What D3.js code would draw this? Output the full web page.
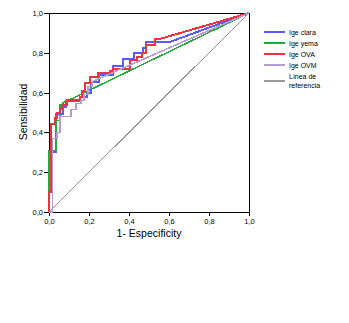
<!DOCTYPE html>
<html>
<head>
<meta charset="utf-8">
<script src="https://cdn.jsdelivr.net/npm/d3@7"></script>
<style>
  body { margin: 0; background: #fff; }
  text { font-family: "Liberation Sans", Arial, sans-serif; }
</style>
</head>
<body>
<div id="chart"></div>
<script>
// ROC points [1 - especificidad, sensibilidad]
let ige_clara = [[0,0],[0,0.13],[0.01,0.13],[0.01,0.30],[0.035,0.30],[0.035,0.49],[0.07,0.49],[0.07,0.53],
    [0.085,0.53],[0.085,0.56],[0.155,0.56],[0.155,0.58],[0.19,0.58],[0.19,0.60],[0.21,0.60],[0.21,0.655],
    [0.25,0.655],[0.25,0.69],[0.32,0.69],[0.32,0.735],[0.37,0.735],[0.37,0.77],[0.425,0.77],[0.425,0.80],
    [0.47,0.80],[0.47,0.825],[0.485,0.825],[0.485,0.853],[0.6,0.853],[1,1]];
let ige_yema = [[0,0],[0,0.31],[0.035,0.31],[0.035,0.46],[0.055,0.46],[0.055,0.54],[0.07,0.54],[0.07,0.548],[1,1]];
let ige_ova = [[0,0],[0,0.10],[0.01,0.10],[0.01,0.44],[0.03,0.44],[0.03,0.47],[0.04,0.47],[0.04,0.50],
    [0.055,0.50],[0.055,0.52],[0.065,0.52],[0.065,0.54],[0.09,0.54],[0.09,0.565],[0.155,0.565],[0.155,0.58],
    [0.165,0.58],[0.165,0.61],[0.18,0.61],[0.18,0.647],[0.205,0.647],[0.205,0.68],[0.245,0.68],[0.245,0.697],
    [0.305,0.697],[0.305,0.71],[0.32,0.71],[0.32,0.72],[0.405,0.72],[0.405,0.765],[0.44,0.765],[0.44,0.78],
    [0.465,0.78],[0.465,0.797],[0.485,0.797],[0.485,0.84],[0.53,0.84],[0.53,0.87],[0.555,0.87],[1,1]];
let ige_ovm = [[0,0],[0.017,0],[0.017,0.37],[0.04,0.37],[0.04,0.40],[0.055,0.40],[0.055,0.48],[0.11,0.48],
    [0.11,0.515],[0.135,0.515],[0.135,0.545],[0.16,0.545],[0.16,0.56],[0.175,0.56],[0.175,0.59],[0.195,0.59],
    [0.195,0.63],[0.215,0.63],[0.215,0.655],[1,1]];
let referencia = [[0,0],[1,1]];

let series_names = ['Ige clara', 'Ige yema', 'Ige OVA', 'Ige OVM', 'Línea de referencia'];
let series_data = [ige_clara, ige_yema, ige_ova, ige_ovm, referencia];
let series_colors = ['#5a5aff', '#22aa3a', '#ee3340', '#b49cd2', '#999999'];
let series_width = [2, 1.5, 2, 1.6, 1];
let ticks = [0, 0.2, 0.4, 0.6, 0.8, 1.0];

let width = 349, height = 323;
let svg = d3.select('#chart').append('svg')
    .attr('width', width)
    .attr('height', height);

let xScale = d3.scaleLinear().domain([0, 1]).range([49, 249]);
let yScale = d3.scaleLinear().domain([0, 1]).range([212, 13]);
let fmt = d => d.toFixed(1).replace('.', ',');

// Frame
svg.append('rect')
    .attr('x', 49).attr('y', 13)
    .attr('width', 200).attr('height', 199)
    .attr('fill', 'none')
    .attr('stroke', '#000')
    .attr('stroke-width', 1)
    .attr('shape-rendering', 'crispEdges');

let xAxis = svg.append('g')
    .attr('transform', 'translate(0,212)')
    .call(d3.axisBottom(xScale).tickValues(ticks).tickFormat(fmt).tickSize(4).tickSizeOuter(0));
let yAxis = svg.append('g')
    .attr('transform', 'translate(49,0)')
    .call(d3.axisLeft(yScale).tickValues(ticks).tickFormat(fmt).tickSize(5).tickSizeOuter(0));

[xAxis, yAxis].forEach(function(ax) {
    ax.selectAll('path').attr('stroke', '#000').attr('shape-rendering', 'crispEdges');
    ax.selectAll('line').attr('stroke', '#000').attr('shape-rendering', 'crispEdges');
    ax.selectAll('text').attr('fill', '#000').style('font-size', '7.5px')
        .style('font-family', '"Liberation Sans", Arial, sans-serif');
});
xAxis.selectAll('text').attr('dy', '0.71em').attr('y', 7);
yAxis.selectAll('text').attr('x', -6);

svg.append('text')
    .attr('x', 149).attr('y', 237)
    .attr('text-anchor', 'middle')
    .style('font-size', '10.5px')
    .text('1- Especificity');

svg.append('text')
    .attr('transform', 'translate(27,112) rotate(-90)')
    .attr('text-anchor', 'middle')
    .style('font-size', '10.5px')
    .text('Sensibilidad');

// ROC curves
let line = d3.line()
    .x(d => xScale(d[0]))
    .y(d => yScale(d[1]));

series_data.forEach(function(s, i) {
    svg.append('path')
        .datum(s)
        .attr('d', line)
        .attr('fill', 'none')
        .attr('stroke', series_colors[i])
        .attr('stroke-width', series_width[i])
        .attr('shape-rendering', 'crispEdges');
});

// Legend
let legend_y = [32, 43, 54, 65, 81];
series_names.forEach(function(name, i) {
    let g = svg.append('g').attr('transform', 'translate(264,' + legend_y[i] + ')');
    g.append('line')
        .attr('x1', 0).attr('x2', 21)
        .attr('stroke', series_colors[i])
        .attr('stroke-width', 2)
        .attr('shape-rendering', 'crispEdges');
    if (i === 4) {
        g.append('text').attr('x', 25).attr('y', -2).style('font-size', '7px').text('Línea de');
        g.append('text').attr('x', 25).attr('y', 7).style('font-size', '7px').text('referencia');
    } else {
        g.append('text').attr('x', 25).attr('y', 2.5).style('font-size', '7px').text(name);
    }
});
</script>
</body>
</html>
